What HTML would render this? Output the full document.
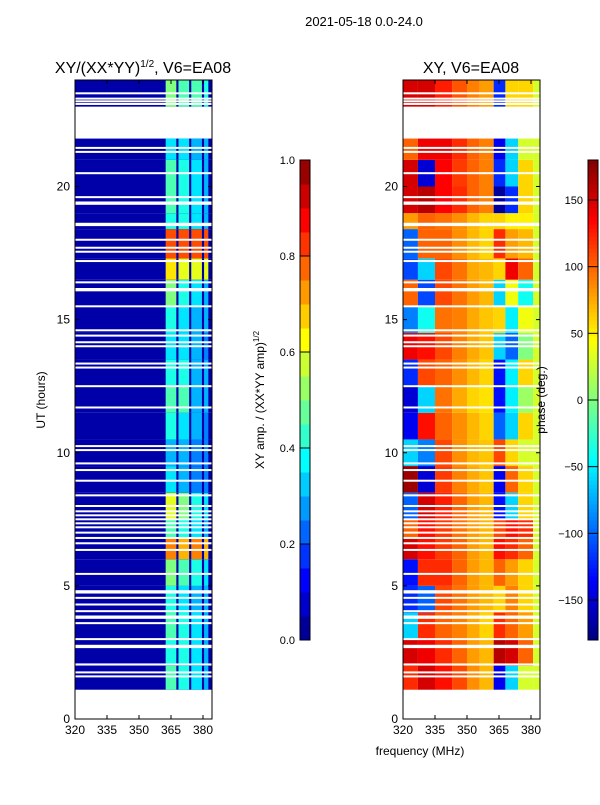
<!DOCTYPE html>
<html><head><meta charset="utf-8">
<style>
body{margin:0;background:#fff;}
svg text{font-family:"Liberation Sans","DejaVu Sans",sans-serif;fill:#000;}
</style></head>
<body>
<svg id="fig" width="600" height="800" viewBox="0 0 600 800" xmlns="http://www.w3.org/2000/svg">
<rect width="600" height="800" fill="#fff"/>
<text x="364" y="26" font-size="13" text-anchor="middle">2021-05-18 0.0-24.0</text>
<text x="143" y="73" font-size="16" text-anchor="middle">XY/(XX*YY)<tspan font-size="10" dy="-6">1/2</tspan><tspan dy="6">, V6=EA08</tspan></text>
<text x="471" y="73" font-size="16" text-anchor="middle">XY, V6=EA08</text>
<text x="420" y="755" font-size="12" text-anchor="middle">frequency (MHz)</text>
<text transform="translate(45,400) rotate(-90)" font-size="12" text-anchor="middle">UT (hours)</text>
<text transform="translate(264,400) rotate(-90)" font-size="12" text-anchor="middle">XY amp. / (XX*YY amp)<tspan font-size="8" dy="-5">1/2</tspan></text>
<g id="L"></g>
<g id="R"></g>
<g id="C"></g>
<g id="A"></g>
<text transform="translate(545,400) rotate(-90)" font-size="12" text-anchor="middle">phase (deg.)</text>
</svg>
<script>
// ---- data ----
const timeEdges=[1.1,2,3,4,5,6,6.8,7.5,8.5,9.5,10.5,11.5,12.5,13.5,14.5,15.5,16.5,17.3,18.4,19,20,21,21.8,23.0,24];
const ampBg=0.04;
const ampBandEdges=[362.5,367.5,368.5,373.5,374.5,379.5,380.5,382.5];
const ampBand=[
[0.45,0.4,0.35,0.3],[0.4,0.4,0.35,0.3],[0.45,0.4,0.35,0.3],[0.4,0.35,0.3,0.3],
[0.5,0.45,0.4,0.35],[0.75,0.7,0.75,0.7],[0.45,0.4,0.35,0.3],[0.6,0.5,0.4,0.35],
[0.35,0.3,0.25,0.25],[0.3,0.3,0.25,0.25],[0.4,0.35,0.3,0.25],[0.45,0.45,0.3,0.3],
[0.4,0.4,0.3,0.3],[0.35,0.35,0.3,0.25],[0.4,0.35,0.3,0.3],[0.5,0.4,0.35,0.3],
[0.65,0.6,0.6,0.6],[0.8,0.8,0.8,0.8],[0.4,0.4,0.35,0.3],[0.45,0.4,0.35,0.3],
[0.45,0.4,0.35,0.3],[0.35,0.35,0.3,0.3],null,[0.5,0.45,0.45,0.4]];
const phaseFreqEdges=[320,327,335,343,350,356,362.5,368,374,381,384.3];
const phase=[
[120,150,130,110,85,70,-140,-60,30,30],[150,140,120,100,80,70,160,150,100,30],
[-60,120,100,90,75,60,120,100,80,30],[-120,-100,110,95,80,70,60,90,60,30],
[-130,120,120,100,80,70,100,80,60,30],[150,130,115,100,80,70,130,120,100,30],
[100,130,115,95,80,70,110,130,120,30],[-100,150,125,100,80,70,-130,-60,60,30],
[170,-150,115,90,75,65,-140,100,60,30],[-60,-90,110,85,70,65,110,60,30,30],
[-140,130,100,85,70,60,-100,-60,60,30],[-150,-60,95,75,60,55,-130,-50,10,30],
[-120,110,100,85,70,60,-130,-50,60,30],[140,130,110,90,75,65,-60,-100,0,30],
[-90,-40,95,90,75,65,60,-50,40,30],[100,-110,110,95,80,70,-60,40,-40,30],
[-110,-60,110,95,75,70,60,140,100,30],[-100,100,100,85,70,60,120,80,70,30],
[80,100,95,85,70,60,60,50,50,30],[150,160,135,120,100,90,-170,-120,60,30],
[150,-150,135,115,100,90,-120,-60,60,30],[100,140,140,120,100,90,-140,-60,30,30],
null,[150,150,125,105,90,80,-120,60,60,30]];
const gapHours=[1.6,1.75,2.05,2.7,2.75,3.0,3.6,3.8,3.85,4.05,4.3,4.55,4.75,4.8,5.45,6.35,6.6,6.8,7.0,7.2,7.35,7.5,7.65,7.8,8.0,8.4,8.95,9.35,9.6,10.1,10.25,11.7,12.5,13.2,13.35,14.0,14.15,14.4,14.6,15.5,16.1,16.15,16.4,17.2,17.55,17.7,18.0,18.55,18.6,19.35,19.4,19.6,20.5,21.3,21.45,23.1,23.2,23.3,23.5];
const xTicks=[320,335,350,365,380];
const yTicks=[0,5,10,15,20];
const ampTicks=[0.0,0.2,0.4,0.6,0.8,1.0];
const phaseTicks=[-150,-100,-50,0,50,100,150];
// ---- helpers ----
const NS="http://www.w3.org/2000/svg";
function mk(t,a,p){const e=document.createElementNS(NS,t);for(const k in a)e.setAttribute(k,a[k]);p.appendChild(e);return e;}
function jet(v){v=Math.max(0,Math.min(1,v));const c=x=>Math.round(255*Math.max(0,Math.min(1,x)));
return `rgb(${c(1.5-Math.abs(4*v-3))},${c(1.5-Math.abs(4*v-2))},${c(1.5-Math.abs(4*v-1))})`;}
const Y0=719,Y1=80;const yS=h=>Y0-(h/24)*(Y0-Y1);
function xS(x0,f){return x0+(f-320)*2.1333;}
const panels=[{x0:75,x1:212},{x0:403,x1:540}];
const L=document.getElementById('L'),R=document.getElementById('R'),C=document.getElementById('C'),A=document.getElementById('A');
for(let i=0;i<ampBand.length;i++){
  const row=ampBand[i];if(!row)continue;
  const ya=yS(timeEdges[i+1]),yb=yS(timeEdges[i]);
  let r=mk('rect',{x:75,y:ya,width:137,height:yb-ya,fill:jet(ampBg)},L);
  
  for(let j=0;j<row.length;j++){
    const fa=ampBandEdges[2*j],fb=ampBandEdges[2*j+1];
    const c=mk('rect',{x:xS(75,fa),y:ya,width:xS(75,fb)-xS(75,fa),height:yb-ya,fill:jet(row[j])},L);
    
  }
}
for(let i=0;i<phase.length;i++){
  const row=phase[i];if(!row)continue;
  const ya=yS(timeEdges[i+1]),yb=yS(timeEdges[i]);
  for(let j=0;j<row.length;j++){
    const xa=xS(403,phaseFreqEdges[j]),xb=Math.min(540,xS(403,phaseFreqEdges[j+1]));
    const c=mk('rect',{x:xa,y:ya,width:xb-xa,height:yb-ya,fill:jet((row[j]+180)/360)},R);
    
  }
}
for(const p of panels){
  for(const g of gapHours){
    const ln=mk('rect',{x:p.x0,y:yS(g)-1,width:p.x1-p.x0,height:2,fill:'#fff'},p.x0<300?L:R);
    
  }
}
for(const p of panels){
  const f=mk('rect',{x:p.x0,y:Y1,width:p.x1-p.x0,height:Y0-Y1,fill:'none',stroke:'#000','stroke-width':1},A);
  
  for(const t of xTicks){const x=xS(p.x0,t);
    mk('line',{x1:x,x2:x,y1:Y0,y2:Y0-4,stroke:'#000'},A);mk('line',{x1:x,x2:x,y1:Y1,y2:Y1+4,stroke:'#000'},A);
    const tx=mk('text',{x:x,y:Y0+15,'font-size':12,'text-anchor':'middle'},A);tx.textContent=t;
    }
  for(const t of yTicks){const y=yS(t);
    mk('line',{x1:p.x0,x2:p.x0+4,y1:y,y2:y,stroke:'#000'},A);mk('line',{x1:p.x1,x2:p.x1-4,y1:y,y2:y,stroke:'#000'},A);
    const tx=mk('text',{x:p.x0-5,y:y+4,'font-size':12,'text-anchor':'end'},A);tx.textContent=t;
    }
}
function cbar(x,ticks,lo,hi,fmt,n){
  const top=160,bot=640;
  for(let k=0;k<n;k++){const s=mk('rect',{x:x,y:bot-(k+1)*(bot-top)/n,width:10,height:(bot-top)/n+0.5,fill:jet((k+0.5)/n)},C);
    }
  mk('rect',{x:x,y:top,width:10,height:bot-top,fill:'none',stroke:'#000'},C);
  for(const t of ticks){const y=bot-(t-lo)/(hi-lo)*(bot-top);
    mk('line',{x1:x,x2:x+10,y1:y,y2:y,stroke:'#000'},C);
    const tx=mk('text',{x:x-5,y:y+4,'font-size':11,'text-anchor':'end'},C);tx.textContent=fmt(t);
    }
}
cbar(300,ampTicks,0,1,t=>t.toFixed(1),20);
cbar(588,phaseTicks,-180,180,t=>t<0?'\u2212'+(-t):String(t),120);
</script>
</body></html>
